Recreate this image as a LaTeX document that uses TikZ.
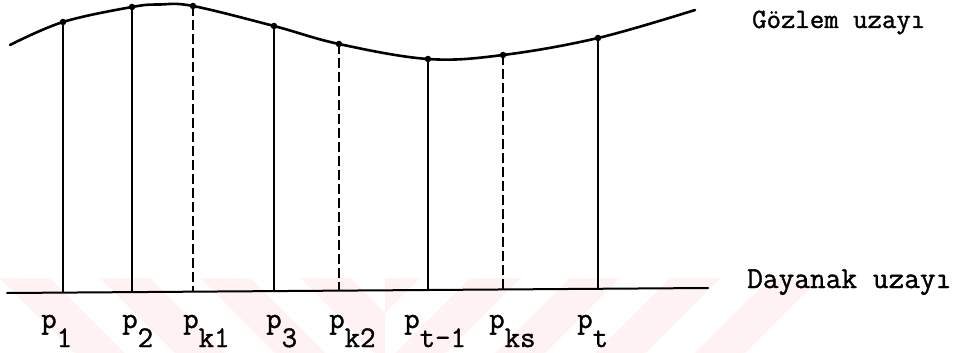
\documentclass[tikz,border=0pt]{standalone}
\usepackage{fontspec}
\newfontfamily\tw[FakeBold=1.2]{Latin Modern Mono}
\begin{document}
\begin{tikzpicture}[x=1pt,y=-1pt,
  curveline/.style={line width=2.6pt, line cap=round},
  solidstem/.style={line width=1.4pt},
  dashstem/.style={line width=1.4pt, dash pattern=on 10pt off 4pt},
  baseln/.style={line width=2pt, line cap=round},
  ptdot/.style={circle, fill, inner sep=0pt, minimum size=6.5pt},
  plabel/.style={anchor=base west, inner sep=0pt, font=\tw\fontsize{30}{30}\selectfont},
  toplabel/.style={anchor=base west, inner sep=0pt, font=\tw\fontsize{28}{28}\selectfont},
  botlabel/.style={anchor=base west, inner sep=0pt, font=\tw\fontsize{30.5}{31}\selectfont},
  stripe/.style={fill=red!5, draw=none}]
\useasboundingbox (0,0) rectangle (964,353);
% faint watermark stripes
\begin{scope}
  \clip (0,278) rectangle (385,353);
  \foreach \i in {0,...,3} {
    \fill[stripe] ({100*\i},278) -- ({50+100*\i},278) -- ({125+100*\i},353) -- ({75+100*\i},353) -- cycle;
  }
\end{scope}
\begin{scope}
  \clip (385,278) rectangle (964,353);
  \foreach \i in {0,...,4} {
    \fill[stripe] ({370+100*\i},278) -- ({420+100*\i},278) -- ({345+100*\i},353) -- ({295+100*\i},353) -- cycle;
  }
\end{scope}
% curve points
\coordinate (s) at (10,45);
\coordinate (a1) at (63,22);
\coordinate (a2) at (132,7);
\coordinate (m) at (160,4.5);
\coordinate (a3) at (193,6);
\coordinate (a4) at (274,26);
\coordinate (a5) at (339,44);
\coordinate (a6) at (428,59);
\coordinate (a7) at (503,55);
\coordinate (a8) at (598,38);
\coordinate (e) at (695,10);
% baseline points
\coordinate (L) at (7,293);
\coordinate (R) at (708,288);
\coordinate (b1) at (63,292.6);
\coordinate (b2) at (132,292.1);
\coordinate (b3) at (193,291.7);
\coordinate (b4) at (274,291.1);
\coordinate (b5) at (339,290.6);
\coordinate (b6) at (428,290.0);
\coordinate (b7) at (503,289.5);
\coordinate (b8) at (598,288.8);
% curve
\draw[curveline] plot[smooth, tension=0.6] coordinates {(s) (a1) (a2) (m) (a3) (a4) (a5) (a6) (a7) (a8) (e)};
% baseline
\draw[baseln] (L) -- (R);
% stems
\draw[solidstem] (a1) -- (b1);
\draw[solidstem] (a2) -- (b2);
\draw[dashstem] (a3) -- (b3);
\draw[solidstem] (a4) -- (b4);
\draw[dashstem] (a5) -- (b5);
\draw[solidstem] (a6) -- (b6);
\draw[dashstem] (a7) -- (b7);
\draw[solidstem] (a8) -- (b8);
% dots
\foreach \n in {a1,a2,a3,a4,a5,a6,a7,a8} \node[ptdot] (d\n) at (\n) {};
% labels
\node[plabel] (l1) at (41,328) {p\raisebox{-19pt}{1}};
\node[plabel] (l2) at (122,328) {p\raisebox{-19pt}{2}};
\node[plabel] (l3) at (183,328) {p\raisebox{-19pt}{k1}};
\node[plabel] (l4) at (266,328) {p\raisebox{-19pt}{3}};
\node[plabel] (l5) at (329,328) {p\raisebox{-19pt}{k2}};
\node[plabel] (l6) at (404,328) {p\raisebox{-19pt}{t-1}};
\node[plabel] (l7) at (489,328) {p\raisebox{-19pt}{ks}};
\node[plabel] (l8) at (577,328) {p\raisebox{-19pt}{t}};
\node[toplabel] (obs) at (752,28) {Gözlem uzayı};
\node[botlabel] (sup) at (747,288) {Dayanak uzayı};
\end{tikzpicture}
\end{document}
